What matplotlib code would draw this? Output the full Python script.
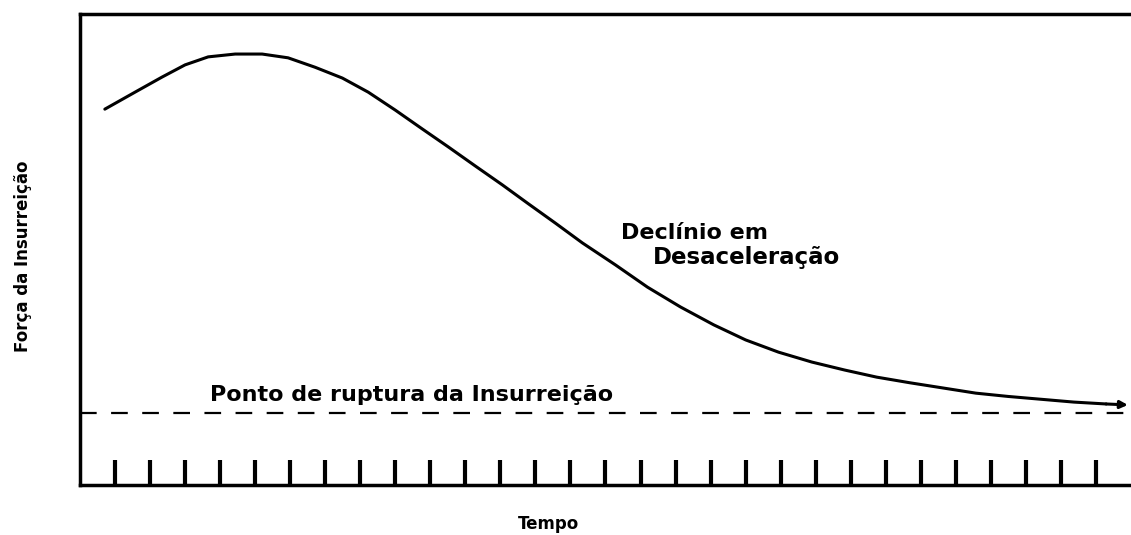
import matplotlib.pyplot as plt

plt.rcParams['font.family'] = ['DejaVu Sans']

# curva (tempo, força)
tempo = [0.71, 1.57, 2.34, 3.00, 3.66, 4.43, 5.20, 5.94, 6.71, 7.49, 8.23, 9.00,
         9.77, 10.51, 11.29, 12.06, 12.80, 13.57, 14.34, 15.29, 16.20, 17.14,
         18.09, 19.00, 19.94, 20.89, 21.83, 22.74, 23.69, 24.63, 25.57, 26.49,
         27.43, 28.37, 29.29, 29.91]
forca = [7.98, 8.34, 8.66, 8.92, 9.09, 9.15, 9.15, 9.07, 8.87, 8.64, 8.34, 7.96,
         7.56, 7.18, 6.77, 6.37, 5.97, 5.56, 5.14, 4.67, 4.20, 3.78,
         3.40, 3.08, 2.82, 2.61, 2.44, 2.29, 2.17, 2.06, 1.95, 1.88,
         1.82, 1.76, 1.72, 1.70]
ruptura = 1.53
marcas = list(range(1, 30))

fig = plt.figure(figsize=(11.31, 5.35), dpi=100)
ax = fig.add_axes([0.0707, 0.0935, 0.9293, 0.8803])

ax.plot(tempo[:-1], forca[:-1], color='black', lw=2.2,
        solid_capstyle='round', solid_joinstyle='round')
ax.annotate('', xy=(tempo[-1], forca[-1]), xytext=(tempo[-2], forca[-2]),
            arrowprops=dict(arrowstyle='-|>', color='black', lw=2.2,
                            mutation_scale=11, shrinkA=0, shrinkB=0))

ax.axhline(ruptura, color='black', lw=1.6, dashes=(7.5, 6.5))

ax.set_xlim(0, 30)
ax.set_ylim(0, 10)
ax.set_xticks(marcas)
ax.set_xticklabels([])
ax.set_yticks([])
ax.tick_params(axis='x', direction='in', length=18, width=3, color='black')

for s in ['left', 'top', 'bottom']:
    ax.spines[s].set_linewidth(2.5)
ax.spines['right'].set_visible(False)

ax.text(3.71, 1.91, 'Ponto de ruptura da Insurreição', fontsize=16,
        fontweight='bold', va='center', ha='left')
ax.text(15.43, 5.35, 'Declínio em', fontsize=16, fontweight='bold',
        va='center', ha='left')
ax.text(16.34, 4.84, 'Desaceleração', fontsize=16.5, fontweight='bold',
        va='center', ha='left')

fig.text(548 / 1131, 1 - 524 / 535, 'Tempo', fontsize=12, fontweight='bold',
         ha='center', va='center')
fig.text(23 / 1131, 1 - 256 / 535, 'Força da Insurreição', fontsize=12,
         fontweight='bold', rotation=90, ha='center', va='center')

fig.savefig('out.png', dpi=100)
